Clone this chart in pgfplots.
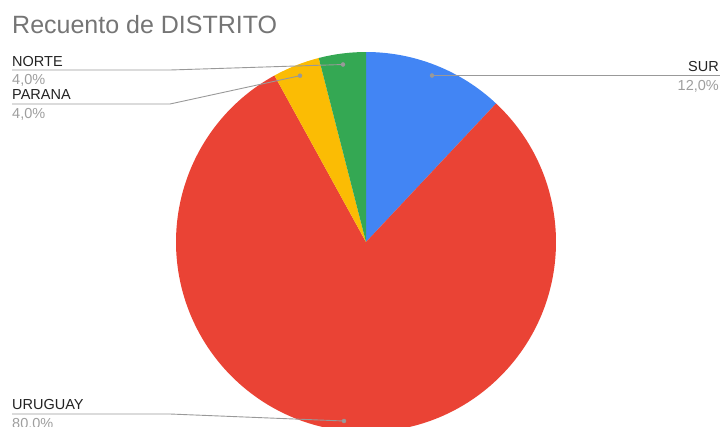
\documentclass[border=0pt]{standalone}
\usepackage{pgfplots}
\usepackage{pgfplotstable}
\pgfplotsset{compat=1.18}
\usepackage{fontspec}
\setmainfont{Liberation Sans}

\definecolor{sur}{HTML}{4285F4}
\definecolor{uru}{HTML}{EA4335}
\definecolor{par}{HTML}{FBBC04}
\definecolor{nor}{HTML}{34A853}
\definecolor{titlegray}{HTML}{757575}
\definecolor{labeltext}{HTML}{222222}
\definecolor{pcttext}{HTML}{9E9E9E}
\definecolor{leader}{HTML}{999999}

% counts per district (total 25)
\pgfplotstableread{
distrito value col
SUR      3     sur
URUGUAY  20    uru
PARANA   1     par
NORTE    1     nor
}\datatable

\begin{document}
\begin{tikzpicture}
\begin{axis}[
  scale only axis, width=723pt, height=426pt,
  xmin=0, xmax=723, ymin=0, ymax=426, y dir=reverse,
  hide axis, clip=true,
]
% slices, clockwise from 12 o'clock
\def\startang{90}
\pgfplotsforeachungrouped \i in {0,...,3}{
  \pgfplotstablegetelem{\i}{value}\of\datatable \let\sliceval\pgfplotsretval
  \pgfplotstablegetelem{\i}{col}\of\datatable \let\slicecol\pgfplotsretval
  \pgfmathsetmacro{\endang}{\startang-360*\sliceval/25}
  \edef\temp{\noexpand\fill[\slicecol] (axis cs:366,242) -- ([shift={(\startang:190pt)}]axis cs:366,242) arc[start angle=\startang, end angle=\endang, radius=190pt] -- cycle;}
  \temp
  \let\startang\endang
}

% leader lines
\addplot[leader, line width=0.9pt, mark=none] coordinates {(12,70) (170,70) (343,64.5)};
\addplot[leader, line width=0.9pt, mark=none] coordinates {(12,104) (170,104) (300,75.7)};
\addplot[leader, line width=0.9pt, mark=none] coordinates {(432,75.5) (720,75.5)};
\addplot[leader, line width=0.9pt, mark=none] coordinates {(12,414) (170,414) (344,421)};
\addplot[only marks, mark=*, mark size=2pt, leader] coordinates {(343,64.5) (300,75.7) (432,75.5) (344,421)};

% title and labels
\node[anchor=base west, text=titlegray, font=\fontsize{25}{30}\selectfont, inner sep=0pt] at (axis cs:12,33) {Recuento de DISTRITO};
\tikzset{lab/.style={inner sep=0pt, text=labeltext, font=\fontsize{14.5}{17}\selectfont},
         pct/.style={inner sep=0pt, text=pcttext, font=\fontsize{14.5}{17}\selectfont}}
\node[lab, anchor=base west] at (axis cs:12,66) {NORTE};
\node[pct, anchor=base west] at (axis cs:12,84) {4,0\%};
\node[lab, anchor=base west] at (axis cs:12,99.5) {PARANA};
\node[pct, anchor=base west] at (axis cs:12,118) {4,0\%};
\node[lab, anchor=base east] at (axis cs:719,71) {SUR};
\node[pct, anchor=base east] at (axis cs:719,90) {12,0\%};
\node[lab, anchor=base west] at (axis cs:12,409.5) {URUGUAY};
\node[pct, anchor=base west] at (axis cs:12,428) {80,0\%};
\end{axis}
\pgfresetboundingbox
\useasboundingbox (current axis.south west) rectangle (current axis.north east);
\end{tikzpicture}
\end{document}
